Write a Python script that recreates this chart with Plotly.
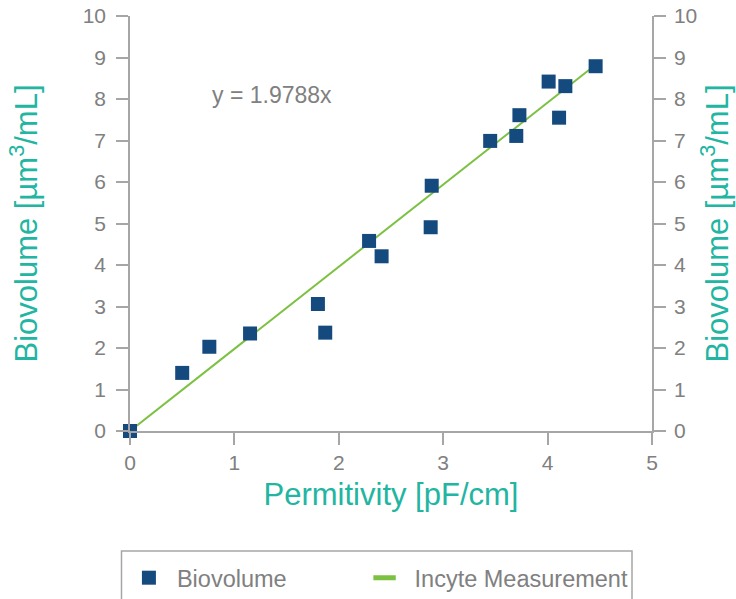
import plotly.graph_objects as go

permittivity = [0.0, 0.50, 0.76, 1.15, 1.80, 1.87, 2.29, 2.41, 2.88, 2.89, 3.45, 3.70, 3.73, 4.01, 4.11, 4.17, 4.46]
biovolume = [0.0, 1.40, 2.03, 2.35, 3.06, 2.37, 4.58, 4.21, 4.91, 5.91, 6.99, 7.11, 7.61, 8.42, 7.55, 8.31, 8.79]
slope = 1.9788
fit_x = [0.0, 4.46]
fit_y = [slope * v for v in fit_x]
x_ticks = [0, 1, 2, 3, 4, 5]
y_ticks = [0, 1, 2, 3, 4, 5, 6, 7, 8, 9, 10]

NAVY = "#154a7e"
GREEN = "#7dc143"
TEAL = "#22b5a2"
GRAY = "#808080"
AXIS = "#a6a6a6"
FONT = "Liberation Sans, Arial, sans-serif"

fig = go.Figure()
fig.add_trace(go.Scatter(x=fit_x, y=fit_y, mode="lines", line=dict(color=GREEN, width=2),
                         showlegend=False, hoverinfo="skip"))
fig.add_trace(go.Scatter(x=permittivity, y=biovolume, mode="markers", name="Biovolume",
                         cliponaxis=False, legend="legend",
                         marker=dict(symbol="square", size=14, color=NAVY)))
fig.add_trace(go.Scatter(x=[None], y=[None], mode="markers", name="Incyte Measurement",
                         legend="legend2",
                         marker=dict(symbol="line-ew", size=20, color=GREEN,
                                     line=dict(color=GREEN, width=7))))
# invisible trace for the right axis
fig.add_trace(go.Scatter(x=[None], y=[None], yaxis="y2", showlegend=False, hoverinfo="skip"))

ytitle = "Biovolume [µm<sup>3</sup>/mL]"
common_y = dict(range=[0, 10], tickvals=y_ticks, showgrid=False, zeroline=False,
                showline=True, linecolor=AXIS, linewidth=1.5, ticks="outside",
                ticklen=12, tickcolor=AXIS, tickwidth=1.5,
                tickfont=dict(family=FONT, size=21, color=GRAY))

legend_common = dict(orientation="h", y=-0.301, xanchor="left", yanchor="top",
                     borderwidth=0, bgcolor="rgba(0,0,0,0)",
                     font=dict(family=FONT, size=23.5, color=GRAY))

fig.update_layout(
    width=736, height=599,
    paper_bgcolor="white", plot_bgcolor="white",
    margin=dict(l=129.5, r=84, t=16, b=168, autoexpand=False),
    xaxis=dict(range=[0, 5], tickvals=x_ticks, showgrid=False, zeroline=False,
               showline=True, linecolor=AXIS, linewidth=1.5, ticks="outside",
               ticklen=12, tickcolor=AXIS, tickwidth=1.5,
               tickfont=dict(family=FONT, size=21, color=GRAY),
               title=dict(text="Permitivity [pF/cm]", standoff=10,
                          font=dict(family=FONT, size=31, color=TEAL))),
    yaxis=dict(**common_y, side="left", ticklabelstandoff=6,
               title=dict(text=ytitle, standoff=36,
                          font=dict(family=FONT, size=31, color=TEAL))),
    yaxis2=dict(**common_y, side="right", overlaying="y", ticklabelstandoff=4,
                title=dict(text=ytitle, standoff=10,
                           font=dict(family=FONT, size=31, color=TEAL))),
    showlegend=True,
    legend=dict(**legend_common, x=-0.0174, itemwidth=46),
    legend2=dict(**legend_common, x=0.4302, itemwidth=50),
    shapes=[dict(type="rect", xref="paper", yref="paper",
                 x0=-0.0163, x1=0.9617, y0=-0.289, y1=-0.47,
                 line=dict(color=AXIS, width=1.5), fillcolor="rgba(0,0,0,0)")],
    annotations=[dict(x=1.36, y=8.09, xref="x", yref="y", text="y = 1.9788x",
                      showarrow=False, font=dict(family=FONT, size=23, color=GRAY))],
)

fig.write_html("out.html")
